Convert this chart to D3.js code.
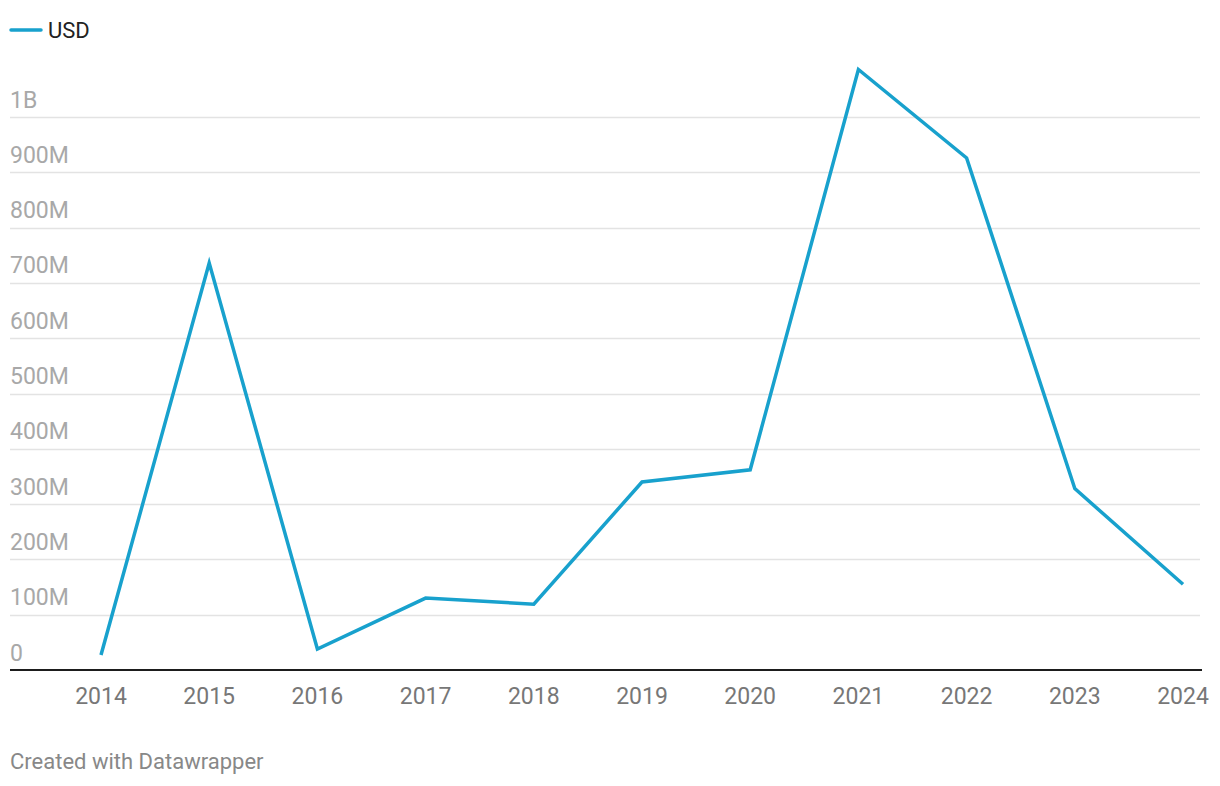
<!DOCTYPE html>
<html>
<head>
<meta charset="utf-8">
<script src="https://cdn.jsdelivr.net/npm/d3@7"></script>
<style>
  body { margin: 0; background: #fff; font-family: Roboto, sans-serif; }
  .grid line { stroke: #e3e3e3; stroke-width: 1.3; }
  .ylab { fill: #a8a8a8; font-size: 23px; }
  .xlab { fill: #777; font-size: 23px; }
</style>
</head>
<body>
<div id="chart"></div>
<script>
// values
var years = [2014, 2015, 2016, 2017, 2018, 2019, 2020, 2021, 2022, 2023, 2024];
var usd = [27e6, 736e6, 38e6, 130e6, 119e6, 340e6, 362e6, 1086e6, 926e6, 328e6, 155e6];
var yTicks = [0, 1e8, 2e8, 3e8, 4e8, 5e8, 6e8, 7e8, 8e8, 9e8, 1e9];
var yTickLabels = ["0", "100M", "200M", "300M", "400M", "500M", "600M", "700M", "800M", "900M", "1B"];

var width = 1220, height = 786;
var margin = {left: 10, right: 20, top: 117, bottom: 116};

var svg = d3.select("#chart").append("svg")
    .attr("width", width)
    .attr("height", height);

var x = d3.scaleLinear()
    .domain([2014, 2024])
    .range([101, 1183]);

var y = d3.scaleLinear()
    .domain([0, 1e9])
    .range([height - margin.bottom, margin.top]);

// legend
svg.append("line")
    .attr("x1", 11).attr("x2", 41)
    .attr("y1", 30).attr("y2", 30)
    .attr("stroke", "#18a1cd")
    .attr("stroke-width", 3.5)
    .attr("stroke-linecap", "round");
svg.append("text")
    .attr("x", 48).attr("y", 37.5)
    .attr("fill", "#222")
    .style("font-size", "22px")
    .text("USD");

// gridlines + y labels
var grid = svg.append("g").attr("class", "grid");
grid.selectAll("line")
    .data(yTicks.slice(1))
    .enter().append("line")
    .attr("x1", margin.left)
    .attr("x2", width - margin.right)
    .attr("y1", function(d){ return Math.round(y(d)) + 0.5; })
    .attr("y2", function(d){ return Math.round(y(d)) + 0.5; });

svg.selectAll(".ylab")
    .data(yTicks)
    .enter().append("text")
    .attr("class", "ylab")
    .attr("x", margin.left)
    .attr("y", function(d){ return y(d) - 9.5; })
    .text(function(d, i){ return yTickLabels[i]; });

// baseline
svg.append("line")
    .attr("x1", margin.left)
    .attr("x2", 1202)
    .attr("y1", y(0))
    .attr("y2", y(0))
    .attr("stroke", "#1d1d1d")
    .attr("stroke-width", 2);

// x labels
svg.selectAll(".xlab")
    .data(years)
    .enter().append("text")
    .attr("class", "xlab")
    .attr("x", function(d){ return x(d); })
    .attr("y", 704)
    .attr("text-anchor", "middle")
    .text(function(d){ return d; });

// the line
var line = d3.line()
    .x(function(d, i){ return x(years[i]); })
    .y(function(d){ return y(d); });

svg.append("path")
    .datum(usd)
    .attr("d", line)
    .attr("fill", "none")
    .attr("stroke", "#18a1cd")
    .attr("stroke-width", 3.5)
    .attr("stroke-linejoin", "miter");

// footer
svg.append("text")
    .attr("x", 10).attr("y", 769)
    .attr("fill", "#888")
    .style("font-size", "22px")
    .text("Created with Datawrapper");
</script>
</body>
</html>
